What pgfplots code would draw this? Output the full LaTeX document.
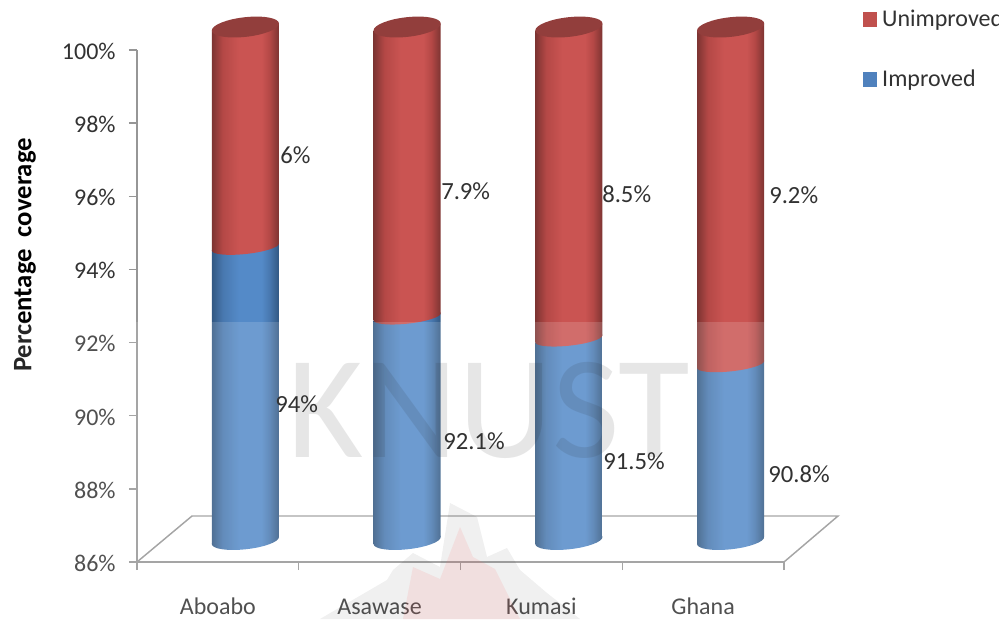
\documentclass[border=0pt]{standalone}
\usepackage{pgfplots}
\pgfplotsset{compat=1.18}
\usepackage{fontspec}
\setmainfont{Carlito}
\definecolor{axisgrey}{RGB}{150,150,150}
\definecolor{txt}{RGB}{50,50,50}
\definecolor{topred}{RGB}{146,62,60}
\definecolor{legred}{RGB}{192,80,77}
\definecolor{legblue}{RGB}{79,129,189}
\definecolor{rd}{RGB}{125,52,50}
\definecolor{rm}{RGB}{180,72,70}
\definecolor{rl}{RGB}{202,84,82}
\definecolor{bd}{RGB}{50,88,130}
\definecolor{bm}{RGB}{72,120,175}
\definecolor{bl}{RGB}{84,138,200}
\pgfdeclarehorizontalshading{redcyl}{100bp}{color(0bp)=(rd); color(25bp)=(rd); color(33bp)=(rm); color(45bp)=(rl); color(62bp)=(rl); color(68bp)=(rm); color(75bp)=(rd); color(100bp)=(rd)}
\pgfdeclarehorizontalshading{bluecyl}{100bp}{color(0bp)=(bd); color(25bp)=(bd); color(33bp)=(bm); color(45bp)=(bl); color(62bp)=(bl); color(68bp)=(bm); color(75bp)=(bd); color(100bp)=(bd)}
\pgfdeclareplotmark{bluecap}{\pgfpathellipse{\pgfpointorigin}{\pgfqpoint{25.2pt}{2.6pt}}{\pgfqpoint{0pt}{6.6pt}}\pgfshadepath{bluecyl}{0}\pgfusepath{discard}}
\pgfdeclareplotmark{redcap}{\pgfpathellipse{\pgfpointorigin}{\pgfqpoint{25.2pt}{2.6pt}}{\pgfqpoint{0pt}{5.2pt}}\pgfshadepath{redcyl}{0}\pgfusepath{discard}}
\pgfdeclareplotmark{topcap}{\pgfpathellipse{\pgfpointorigin}{\pgfqpoint{25.2pt}{2.6pt}}{\pgfqpoint{0pt}{7.4pt}}\pgfsetfillcolor{topred}\pgfusepathqfill}
\newcommand{\lab}{\fontsize{18pt}{20pt}\selectfont}
\newcommand{\datalab}{\fontsize{18.5pt}{20pt}\selectfont}
\begin{document}
\begin{tikzpicture}[x=0.75pt,y=0.75pt]
\useasboundingbox (0,0) rectangle (1007,619);
\coordinate (frameorigin) at (137,57);
\coordinate (barorigin) at (164.5,78.5);
% floor of the 3D box
\draw[axisgrey,line width=1.1pt,line join=miter] (137,57) -- (192,103) -- (838,103) -- (784,57);
% frame axis
\begin{axis}[
  at={(frameorigin)},anchor=south west,scale only axis,
  width=485.25pt,height=384pt,
  xmin=0,xmax=4,ymin=86,ymax=100,
  axis x line*=bottom,axis y line*=left,
  axis line style={axisgrey,line width=1.1pt},
  tick style={axisgrey,line width=1pt},
  tick align=outside,major tick length=6pt,
  typeset ticklabels with strut,
  xtick={0,1,2,3,4},xticklabels={},
  extra x ticks={0.5,1.5,2.5,3.5},
  extra x tick labels={Aboabo,Asawase,Kumasi,Ghana},
  extra x tick style={major tick length=0pt,
     xticklabel style={yshift=-22pt}},
  ytick={86,88,...,100},
  yticklabel={\pgfmathprintnumber{\tick}\%},
  /pgf/number format/assume math mode=true,
  ticklabel style={font=\lab,text=txt},
  yticklabel style={xshift=-6.5pt,yshift=-1pt},
  ylabel={Percentage\ \ coverage},
  every axis y label/.style={at={(axis description cs:-0.173,0.5996)},rotate=90,anchor=center},
  ylabel style={font=\fontsize{20pt}{22pt}\selectfont\bfseries,text=black},
  legend style={at={(axis description cs:1.1221,1.0775)},anchor=north west,draw=none,fill=none,
     inner sep=0pt,outer sep=0pt,font=\lab,text=txt,row sep=31pt,
     nodes={inner sep=0pt,anchor=west}},
  legend cell align=left,
  legend image code/.code={\fill[#1] (0pt,-5.2pt) rectangle (10pt,5.2pt);},
]
\addlegendimage{legred}\addlegendentry{\hspace{4pt}Unimproved}
\addlegendimage{legblue}\addlegendentry{\hspace{4pt}Improved}
\end{axis}
% cylinders
\begin{axis}[
  at={(barorigin)},anchor=south west,scale only axis,
  width=485.25pt,height=385.1pt,
  xmin=0,xmax=4,ymin=86,ymax=100,
  hide axis,clip=false,
]
\addplot[only marks,mark=bluecap] coordinates {(0.5,86)(1.5,86)(2.5,86)(3.5,86)};
\addplot[shade,shading=bluecyl,draw=none] coordinates {(0.2929,85.9046)(0.7071,86.0954)(0.7071,94.0954)(0.2929,93.9046)(0.2929,85.9046)};
\addplot[shade,shading=bluecyl,draw=none] coordinates {(1.2929,85.9046)(1.7071,86.0954)(1.7071,92.1954)(1.2929,92.0046)(1.2929,85.9046)};
\addplot[shade,shading=bluecyl,draw=none] coordinates {(2.2929,85.9046)(2.7071,86.0954)(2.7071,91.5954)(2.2929,91.4046)(2.2929,85.9046)};
\addplot[shade,shading=bluecyl,draw=none] coordinates {(3.2929,85.9046)(3.7071,86.0954)(3.7071,90.8954)(3.2929,90.7046)(3.2929,85.9046)};
\addplot[only marks,mark=redcap] coordinates {(0.5,94)(1.5,92.1)(2.5,91.5)(3.5,90.8)};
\addplot[shade,shading=redcyl,draw=none] coordinates {(0.2929,93.9046)(0.7071,94.0954)(0.7071,100.0954)(0.2929,99.9046)(0.2929,93.9046)};
\addplot[shade,shading=redcyl,draw=none] coordinates {(1.2929,92.0046)(1.7071,92.1954)(1.7071,100.0954)(1.2929,99.9046)(1.2929,92.0046)};
\addplot[shade,shading=redcyl,draw=none] coordinates {(2.2929,91.4046)(2.7071,91.5954)(2.7071,100.0954)(2.2929,99.9046)(2.2929,91.4046)};
\addplot[shade,shading=redcyl,draw=none] coordinates {(3.2929,90.7046)(3.7071,90.8954)(3.7071,100.0954)(3.2929,99.9046)(3.2929,90.7046)};
\addplot[only marks,mark=topcap] coordinates {(0.5,100)(1.5,100)(2.5,100)(3.5,100)};
\end{axis}
% watermark: flame
\fill[black,opacity=0.07] (320,0) -- (387,39) -- (393,49) -- (413,66) -- (440,52) -- (450,116) -- (477,102) -- (487,62) -- (507,71) -- (520,49) -- (547,26) -- (580,0) -- cycle;
\fill[red!70!white,opacity=0.12] (403,0) -- (413,52) -- (440,40) -- (460,92) -- (473,62) -- (495,50) -- (520,0) -- cycle;
% watermark: lettering
\node[anchor=base west,inner sep=0pt,text=black,text opacity=0.115,font=\fontsize{110pt}{110pt}\selectfont] at (287,162) {KNUST};
% pale band of the overlaid page
\fill[white,opacity=0.15] (0,0) rectangle (1007,297);
% data labels
\begin{scope}[every node/.style={anchor=west,inner sep=0pt,font=\datalab,text=txt}]
\node at (280,464) {6\%};
\node at (441,428) {7.9\%};
\node at (602,425) {8.5\%};
\node at (769,424) {9.2\%};
\node at (275,215) {94\%};
\node at (443,178) {92.1\%};
\node at (603,158) {91.5\%};
\node at (768,145) {90.8\%};
\end{scope}
\fill[white] (999,550) rectangle (1007,619);
\end{tikzpicture}
\end{document}
